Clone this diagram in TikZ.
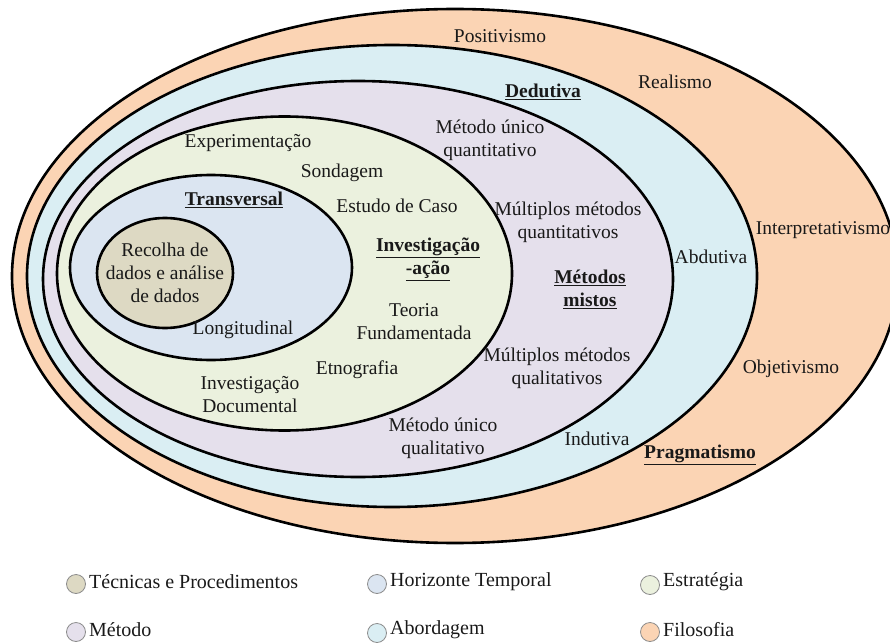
\documentclass[tikz,border=0pt]{standalone}
\usepackage{fontspec}
\setmainfont{Liberation Serif}
\usetikzlibrary{shapes.geometric}
\definecolor{filo}{RGB}{251,212,180}
\definecolor{abor}{RGB}{218,238,243}
\definecolor{meto}{RGB}{229,224,236}
\definecolor{estr}{RGB}{235,241,222}
\definecolor{hori}{RGB}{219,229,241}
\definecolor{tecn}{RGB}{221,217,195}
\tikzset{
  ring/.style={ellipse, draw=black, line width=2.6pt, inner sep=0pt},
  lbl/.style={font=\fontsize{19.5}{23}\selectfont, align=center, inner sep=0pt, text=black!90},
  legdot/.style={circle, draw=black!45, line width=0.8pt, minimum size=19pt, inner sep=0pt},
  legtxt/.style={font=\fontsize{20}{23}\selectfont, anchor=west, inner sep=0pt, text=black!90}
}
\newcommand{\bul}[1]{\underline{\textbf{#1}}}
\begin{document}
\begin{tikzpicture}[x=1pt,y=-1pt]
\useasboundingbox (0,0) rectangle (890,644);
% rings
\node[ring, fill=filo, minimum width=886pt, minimum height=534pt] (filosofia) at (455,276) {};
\node[ring, fill=abor, minimum width=730pt, minimum height=462pt] (abordagem) at (392,276) {};
\node[ring, fill=meto, minimum width=630pt, minimum height=396pt] (metodo) at (358,279) {};
\node[ring, fill=estr, minimum width=455pt, minimum height=314pt] (estrategia) at (284.5,273.5) {};
\node[ring, fill=hori, minimum width=282pt, minimum height=185pt] (horizonte) at (211,267.5) {};
\node[ring, fill=tecn, minimum width=136pt, minimum height=110pt] (tecnicas) at (165,273) {};
% labels - filosofia
\node[lbl] (positivismo) at (500,36) {Positivismo};
\node[lbl] (realismo) at (675,82) {Realismo};
\node[lbl] (interpret) at (823,230) {Interpretativismo};
\node[lbl] (objetivismo) at (791,369) {Objetivismo};
\node[lbl] (pragmatismo) at (700,455) {\bul{Pragmatismo}};
% abordagem
\node[lbl] (dedutiva) at (543,92) {\bul{Dedutiva}};
\node[lbl] (abdutiva) at (711,257) {Abdutiva};
\node[lbl] (indutiva) at (597,439) {Indutiva};
% metodo
\node[lbl] (munquant) at (490,140) {Método único\\quantitativo};
\node[lbl] (mmquant) at (568,222) {Múltiplos métodos\\quantitativos};
\node[lbl] (mistos) at (590,289) {\bul{Métodos}\\\bul{mistos}};
\node[lbl] (mmqual) at (557,368) {Múltiplos métodos\\qualitativos};
\node[lbl] (munqual) at (443,438) {Método único\\qualitativo};
% estrategia
\node[lbl] (experim) at (248,143) {Experimentação};
\node[lbl] (sondagem) at (342,173) {Sondagem};
\node[lbl] (estudo) at (397,206) {Estudo de Caso};
\node[lbl] (invacao) at (428,259) {\bul{Investigação}\\\bul{-ação}};
\node[lbl] (teoria) at (414,322) {Teoria\\Fundamentada};
\node[lbl] (etnografia) at (357,370) {Etnografia};
\node[lbl] (invdoc) at (250,395) {Investigação\\Documental};
% horizonte
\node[lbl] (transversal) at (234,200) {\bul{Transversal}};
\node[lbl] (longitudinal) at (243,330) {Longitudinal};
% tecnicas
\node[lbl] (recolha) at (165,273) {Recolha de\\dados e análise\\de dados};
% legend
\node[legdot, fill=tecn] (lg1) at (76,584) {};
\node[legtxt] (lt1) at (89,582) {Técnicas e Procedimentos};
\node[legdot, fill=hori] (lg2) at (377,584) {};
\node[legtxt] (lt2) at (390,582) {Horizonte Temporal};
\node[legdot, fill=estr] (lg3) at (650,585) {};
\node[legtxt] (lt3) at (663,582) {Estratégia};
\node[legdot, fill=meto] (lg4) at (76,632) {};
\node[legtxt] (lt4) at (89,630) {Método};
\node[legdot, fill=abor] (lg5) at (377,633) {};
\node[legtxt] (lt5) at (390,630) {Abordagem};
\node[legdot, fill=filo] (lg6) at (650,632) {};
\node[legtxt] (lt6) at (663,630) {Filosofia};
\end{tikzpicture}
\end{document}
